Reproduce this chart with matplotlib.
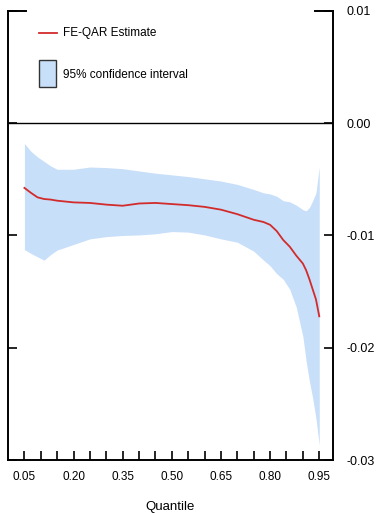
import numpy as np
import matplotlib
matplotlib.use("Agg")
from matplotlib import pyplot as plt
from matplotlib.patches import Rectangle

plt.rcParams['font.family'] = ['Liberation Sans', 'DejaVu Sans']

# quantile grid and FE-QAR results (in units of 1e-3)
quantiles = [0.05, 0.07, 0.09, 0.11, 0.13, 0.15, 0.20, 0.25, 0.30, 0.35,
             0.40, 0.45, 0.50, 0.55, 0.60, 0.65, 0.70, 0.75, 0.78, 0.80,
             0.82, 0.84, 0.86, 0.88, 0.90, 0.91, 0.92, 0.93, 0.94, 0.95]
estimate = [-5.76, -6.2, -6.6, -6.75, -6.8, -6.9, -7.05, -7.1, -7.25, -7.35,
            -7.15, -7.1, -7.2, -7.3, -7.45, -7.7, -8.1, -8.6, -8.8, -9.05,
            -9.6, -10.4, -11.0, -11.8, -12.5, -13.1, -13.9, -14.8, -15.7, -17.2]
ci_upper = [-1.8, -2.5, -3.0, -3.4, -3.8, -4.1, -4.1, -3.9, -3.95, -4.05,
            -4.25, -4.45, -4.6, -4.75, -4.95, -5.15, -5.45, -5.9, -6.2, -6.3,
            -6.5, -6.9, -7.0, -7.3, -7.7, -7.8, -7.5, -6.9, -6.2, -3.9]
ci_lower = [-11.25, -11.6, -11.9, -12.2, -11.7, -11.3, -10.8, -10.3, -10.1, -10.0,
            -9.95, -9.85, -9.65, -9.7, -9.95, -10.3, -10.6, -11.4, -12.2, -12.7,
            -13.4, -13.9, -14.8, -16.4, -19.0, -21.2, -23.0, -24.5, -26.3, -28.7]

xticks = np.arange(0.05, 0.951, 0.05)
xticklabels = ["%.2f" % t if i % 3 == 0 else "" for i, t in enumerate(xticks)]
yticks = [0.01, 0.0, -0.01, -0.02, -0.03]
yticklabels = ["0.01", "0.00", "-0.01", "-0.02", "-0.03"]

band_color = "#c8dff9"
line_color = "#d22b2b"

q = np.array(quantiles)
est = np.array(estimate) * 1e-3
lo = np.array(ci_lower) * 1e-3
hi = np.array(ci_upper) * 1e-3

fig = plt.figure(figsize=(3.78, 5.13), dpi=100)
ax = fig.add_axes([0.0212, 0.1033, 0.8598, 0.8753])

ax.fill_between(q, lo, hi, color=band_color, linewidth=0)
ax.plot(q, est, color=line_color, linewidth=1.3)
ax.axhline(0.0, color="black", linewidth=1.0)

ax.set_xlim(0.0, 0.992)
ax.set_ylim(-0.03, 0.01)

ax.spines['top'].set_visible(False)
for s in ['left', 'right', 'bottom']:
    ax.spines[s].set_linewidth(1.4)

ax.set_xticks(xticks)
ax.set_xticklabels(xticklabels)
ax.tick_params(axis='x', direction='in', length=6.5, width=1.2, pad=8, labelsize=8.5)

ax.set_yticks(yticks)
ax.set_yticklabels(yticklabels)
ax.yaxis.tick_right()
ax.tick_params(axis='y', which='both', left=True, right=True, direction='in',
               length=6.5, width=1.2, pad=10, labelsize=9)

# longer caps at the top of the frame
ax.plot([0, 0.055], [1, 1], color="black", linewidth=1.4, transform=ax.transAxes, clip_on=False)
ax.plot([0.945, 1], [1, 1], color="black", linewidth=1.4, transform=ax.transAxes, clip_on=False)

ax.set_xlabel("Quantile", fontsize=9.5, va="center")
ax.xaxis.set_label_coords(0.5, -0.105)

# hand-made legend
ax.plot([0.095, 0.151], [0.951, 0.951], color=line_color, linewidth=1.3, transform=ax.transAxes)
ax.text(0.169, 0.951, "FE-QAR Estimate", transform=ax.transAxes, fontsize=8.5, va="center")
ax.add_patch(Rectangle((0.095, 0.831), 0.053, 0.06, transform=ax.transAxes,
                       facecolor=band_color, edgecolor="#333333", linewidth=1.0))
ax.text(0.169, 0.857, "95% confidence interval", transform=ax.transAxes, fontsize=8.5, va="center")

fig.savefig("out.png", dpi=100)
